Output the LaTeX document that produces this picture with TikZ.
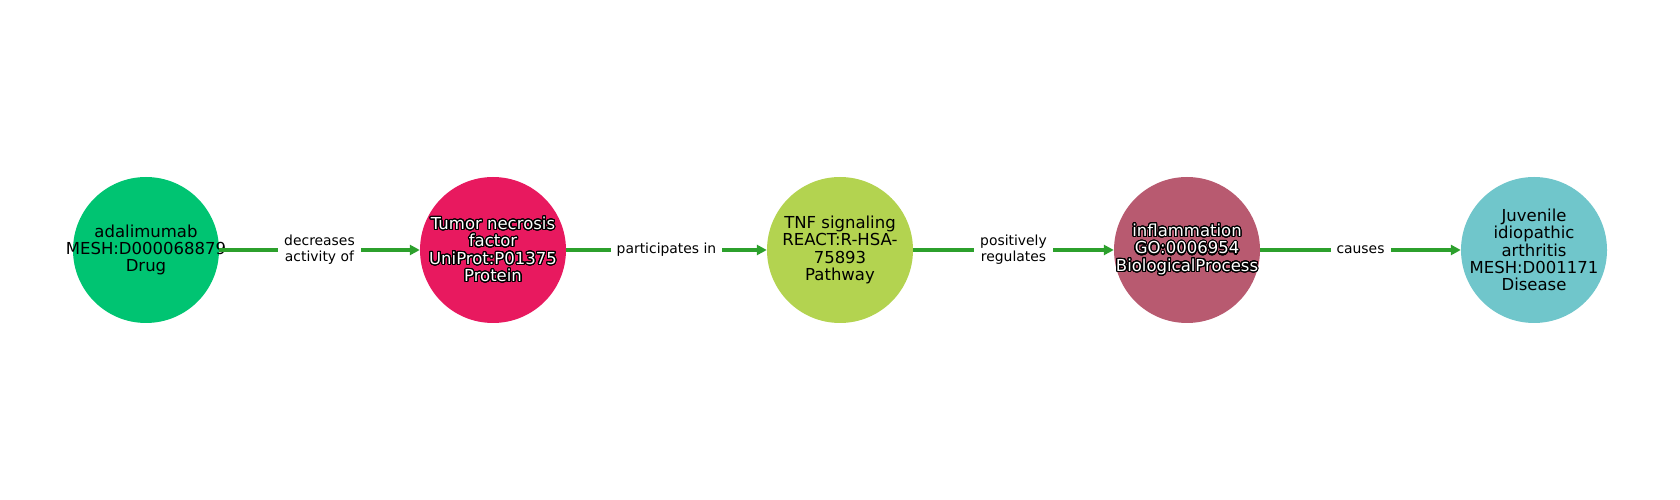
\documentclass[tikz,border=0pt]{standalone}
\usepackage{fontspec}
\setmainfont{DejaVu Sans}
\usepackage{contour}
\contourlength{1.1pt}
\contournumber{32}
\usetikzlibrary{arrows.meta}
\definecolor{cdrug}{RGB}{0,196,114}
\definecolor{cprot}{RGB}{232,25,95}
\definecolor{cpath}{RGB}{179,211,80}
\definecolor{cproc}{RGB}{184,90,112}
\definecolor{cdis}{RGB}{112,198,203}
\definecolor{cedge}{RGB}{44,160,44}
\newcommand{\wc}[1]{\contour{black}{\textcolor{white}{#1}}}
\tikzset{
  ent/.style={circle, minimum size=146pt, inner sep=0pt, draw=none},
  entlab/.style={inner sep=0pt, align=center,
    font=\fontsize{16.5pt}{17.4pt}\selectfont},
  rel/.style={-{Triangle[length=10pt,width=10pt]}, line width=4pt, draw=cedge},
  rellab/.style={fill=white, inner sep=0pt, inner xsep=6pt, inner ysep=3pt, align=center,
    font=\fontsize{13.9pt}{16pt}\selectfont, text=black}
}
\begin{document}
\begin{tikzpicture}[x=1pt,y=1pt]
\useasboundingbox (0,0) rectangle (1680,500);
\node[ent, fill=cdrug] (a) at (146,250) {};
\node[ent, fill=cprot] (b) at (493,250) {};
\node[ent, fill=cpath] (c) at (840,250) {};
\node[ent, fill=cproc] (d) at (1187,250) {};
\node[ent, fill=cdis] (e) at (1534,250) {};
\node[entlab] (ta) at (a) {adalimumab\\MESH:D000068879\\Drug};
\node[entlab] (tb) at (b) {\wc{Tumor necrosis}\\\wc{factor}\\\wc{UniProt:P01375}\\\wc{Protein}};
\node[entlab] (tc) at (c) {TNF signaling\\REACT:R-HSA-\\75893\\Pathway};
\node[entlab] (td) at (d) {\wc{inflammation}\\\wc{GO:0006954}\\\wc{BiologicalProcess}};
\node[entlab] (te) at (e) {Juvenile\\idiopathic\\arthritis\\MESH:D001171\\Disease};
\draw[rel] (a) -- node[rellab] {decreases\\activity of} (b);
\draw[rel] (b) -- node[rellab] {participates in} (c);
\draw[rel] (c) -- node[rellab] {positively\\regulates} (d);
\draw[rel] (d) -- node[rellab] {causes} (e);
\end{tikzpicture}
\end{document}
